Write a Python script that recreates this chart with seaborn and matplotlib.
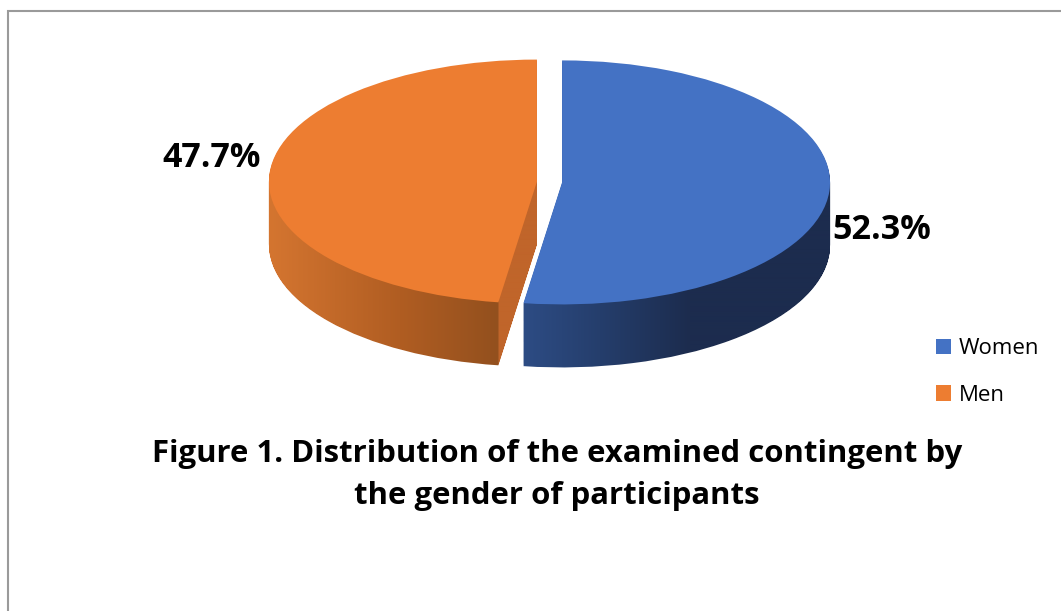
import numpy as np
import matplotlib
matplotlib.use("Agg")
import matplotlib.pyplot as plt
import seaborn as sns
from matplotlib.patches import Rectangle, Patch, PathPatch
from matplotlib.path import Path
from matplotlib.colors import to_rgb

sns.set_theme(style="white")
plt.rcParams['font.family'] = ['Open Sans', 'DejaVu Sans']

categories = ["Women", "Men"]
shares = [52.3, 47.7]
top_colors = ["#4472C4", "#ED7D31"]
title = "Figure 1. Distribution of the examined contingent by\nthe gender of participants"

W, H = 1061, 611
fig = plt.figure(figsize=(W / 100, H / 100), dpi=100)

# frame
fig.patches.append(Rectangle((8 / W, -0.1), 1.2, 1 - 11 / H + 0.1, transform=fig.transFigure,
                             fill=False, edgecolor="#9A9A9A", lw=1.5))

ax = fig.add_axes([0, 0, 1, 1])
cx, cy = 549.5, 182.0
rx, ry = 268.0, 122.0
depth = 63.0 / ry
explode = [0.047, 0.047]

# side walls: stacked copies, used as clip region for a shaded gradient
n = 60
wall_paths = [[], []]
for k in range(n, 0, -1):
    d = depth * k / n
    wedges, _ = ax.pie(shares, explode=explode, startangle=90, counterclock=False,
                       colors=top_colors, center=(0, -d), radius=1.0,
                       wedgeprops=dict(linewidth=0))
    for i, w in enumerate(wedges):
        wall_paths[i].append(w.get_path())
        w.set_visible(False)

ax.set_aspect('auto')
x0, x1 = -cx / rx, (W - cx) / rx
y0, y1 = -(H - cy) / ry, cy / ry
ax.set_xlim(x0, x1)
ax.set_ylim(y0, y1)


def ramp(stops):
    px = np.arange(W)
    xs = [s[0] for s in stops]
    cols = np.array([to_rgb(s[1]) for s in stops])
    return np.stack([np.interp(px, xs, cols[:, c]) for c in range(3)], axis=-1)


blue_grad = ramp([(523, "#2D4C84"), (600, "#253E6C"), (690, "#1C2C4E"), (1061, "#1C2C4E")])
orange_grad = ramp([(270, "#D47530"), (400, "#B05D22"), (497, "#93501E"), (499, "#C0652A"), (1061, "#C0652A")])

for i, grad in enumerate([blue_grad, orange_grad]):
    img = np.repeat(grad[None, :, :], 2, axis=0)
    im = ax.imshow(img, extent=(x0, x1, y0, y1), aspect='auto', origin='upper',
                   interpolation='bilinear', zorder=1)
    clip = PathPatch(Path.make_compound_path(*wall_paths[i]), transform=ax.transData,
                     facecolor='none', edgecolor='none')
    im.set_clip_path(clip)

# top face
top, _ = ax.pie(shares, explode=explode, startangle=90, counterclock=False,
                colors=top_colors, center=(0, 0), radius=1.0,
                wedgeprops=dict(linewidth=0))
for w in top:
    w.set_zorder(3)

ax.set_aspect('auto')
ax.set_xlim(x0, x1)
ax.set_ylim(y0, y1)
ax.axis('off')

# data labels
ax.text((882 - cx) / rx, -(230 - cy) / ry, f"{shares[0]:.1f}%", ha="center", va="center",
        fontsize=24.5, fontweight="bold", color="black", zorder=5)
ax.text((212 - cx) / rx, -(158 - cy) / ry, f"{shares[1]:.1f}%", ha="center", va="center",
        fontsize=24.5, fontweight="bold", color="black", zorder=5)

handles = [Patch(facecolor=c, edgecolor="none") for c in top_colors]
fig.legend(handles, categories, loc="center left", bbox_to_anchor=(916 / W, 1 - 372 / H),
           frameon=False, fontsize=16, handlelength=0.68, handleheight=0.68,
           labelspacing=1.15, handletextpad=0.35, labelcolor="black")

fig.text(557 / W, 1 - 475 / H, title, ha="center", va="center", fontsize=22.4,
         fontweight="bold", linespacing=1.55, color="black")

fig.savefig("out.png", dpi=100)
